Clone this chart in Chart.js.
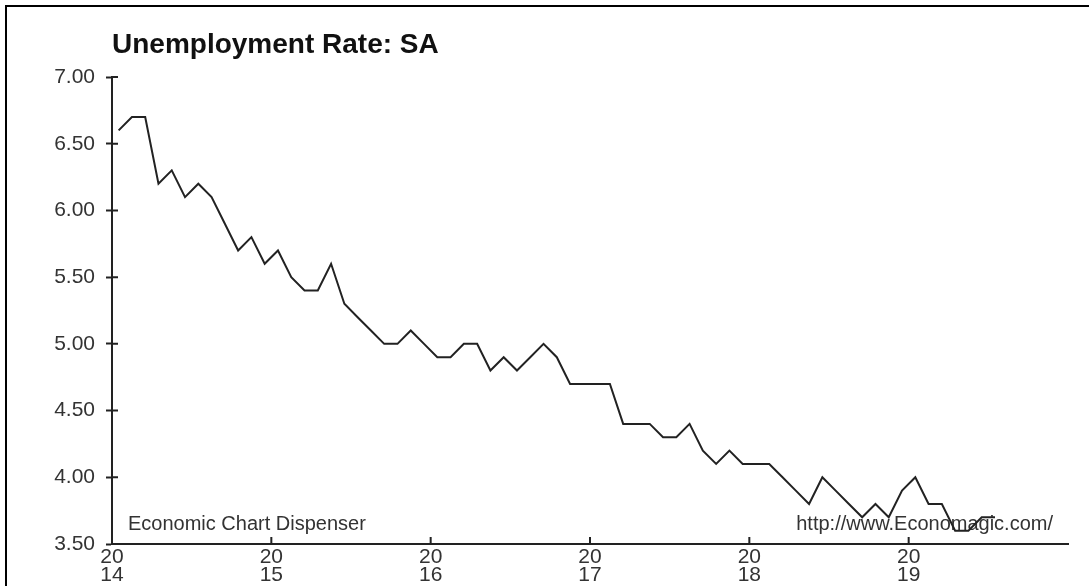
<!DOCTYPE html>
<html>
<head>
<meta charset="utf-8">
<title>Unemployment Rate: SA</title>
<script src="https://cdn.jsdelivr.net/npm/chart.js@4.4.1/dist/chart.umd.min.js"></script>
<style>
  html, body { margin: 0; padding: 0; background: #fff; }
  #wrap { position: relative; width: 1089px; height: 586px; }
  #frame { position: absolute; left: 5px; top: 5px; right: 0; bottom: 0; border-top: 2px solid #000; border-left: 2px solid #000; pointer-events: none; }
</style>
</head>
<body>
<div id="wrap">
  <canvas id="rateChart"></canvas>
  <div id="frame"></div>
</div>
<script>
// monthly unemployment rate, seasonally adjusted
const years = [2014, 2015, 2016, 2017, 2018, 2019]
const rates2014 = [6.6, 6.7, 6.7, 6.2, 6.3, 6.1, 6.2, 6.1, 5.9, 5.7, 5.8, 5.6]
const rates2015 = [5.7, 5.5, 5.4, 5.4, 5.6, 5.3, 5.2, 5.1, 5.0, 5.0, 5.1, 5.0]
const rates2016 = [4.9, 4.9, 5.0, 5.0, 4.8, 4.9, 4.8, 4.9, 5.0, 4.9, 4.7, 4.7]
const rates2017 = [4.7, 4.7, 4.4, 4.4, 4.4, 4.3, 4.3, 4.4, 4.2, 4.1, 4.2, 4.1]
const rates2018 = [4.1, 4.1, 4.0, 3.9, 3.8, 4.0, 3.9, 3.8, 3.7, 3.8, 3.7, 3.9]
const rates2019 = [4.0, 3.8, 3.8, 3.6, 3.6, 3.7, 3.7]

const chartTitle = 'Unemployment Rate: SA'
const sourceNote = 'Economic Chart Dispenser'
const siteNote = 'http://www.Economagic.com/'

const yMin = 3.5
const yMax = 7
const yStep = 0.5

// one point per month, placed in the middle of the month
var points = []
var allRates = [rates2014, rates2015, rates2016, rates2017, rates2018, rates2019]
allRates.forEach((list, i) => {
    list.forEach((v, m) => {
        points.push({ x: years[i] + (m + 0.5) / 12, y: v })
    })
})

var textFont = '"Liberation Sans", Arial, sans-serif'

// inner halves of the tick marks, the two notes and the title
const chartDecor = {
    id: 'chartDecor',
    beforeDatasetsDraw(chart) {
        const { ctx, chartArea, scales } = chart
        ctx.save()
        ctx.strokeStyle = '#222'
        ctx.lineWidth = 2
        ctx.beginPath()
        scales.y.ticks.forEach(t => {
            var y = scales.y.getPixelForValue(t.value)
            ctx.moveTo(chartArea.left, y)
            ctx.lineTo(chartArea.left + 6, y)
        })
        scales.x.ticks.forEach(t => {
            var x = scales.x.getPixelForValue(t.value)
            ctx.moveTo(x, chartArea.bottom)
            ctx.lineTo(x, chartArea.bottom - 7)
        })
        ctx.stroke()

        ctx.fillStyle = '#333'
        ctx.font = '20px ' + textFont
        ctx.textBaseline = 'alphabetic'
        ctx.textAlign = 'left'
        ctx.fillText(sourceNote, chartArea.left + 16, chartArea.bottom - 14)
        ctx.textAlign = 'right'
        ctx.fillText(siteNote, chartArea.right - 15, chartArea.bottom - 14)

        ctx.fillStyle = '#111'
        ctx.font = 'bold 28px ' + textFont
        ctx.textAlign = 'left'
        ctx.fillText(chartTitle, chartArea.left, chartArea.top - 24)
        ctx.restore()
    }
}

var ctx = document.getElementById('rateChart')

new Chart(ctx, {
    type: 'line',
    data: {
        datasets: [{
            label: chartTitle,
            data: points,
            borderColor: '#222',
            borderWidth: 2,
            pointRadius: 0,
            tension: 0,
            fill: false
        }]
    },
    options: {
        responsive: true,
        maintainAspectRatio: false,
        animation: false,
        layout: {
            padding: { top: 77, right: 21, bottom: 0, left: 0 }
        },
        plugins: {
            legend: { display: false },
            tooltip: { enabled: false },
            title: { display: false }
        },
        scales: {
            x: {
                type: 'linear',
                min: years[0],
                max: years[years.length - 1] + 1,
                afterBuildTicks: (scale) => {
                    scale.ticks = years.map(v => ({ value: v }))
                },
                afterFit: (scale) => {
                    scale.height = 42
                },
                border: { color: '#222', width: 2 },
                grid: { drawOnChartArea: false, drawTicks: false },
                ticks: {
                    autoSkip: false,
                    maxRotation: 0,
                    padding: 4,
                    color: '#333',
                    font: { family: textFont, size: 21, lineHeight: 0.86 },
                    callback: (v) => [String(v).slice(0, 2), String(v).slice(2)]
                }
            },
            y: {
                min: yMin,
                max: yMax,
                afterFit: (scale) => {
                    scale.width = 112
                },
                border: { color: '#222', width: 2 },
                grid: { drawOnChartArea: false, tickLength: 6, tickColor: '#222', tickWidth: 2 },
                ticks: {
                    stepSize: yStep,
                    padding: 11,
                    color: '#333',
                    font: { family: textFont, size: 21 },
                    callback: (v) => v.toFixed(2)
                }
            }
        }
    },
    plugins: [chartDecor]
})
</script>
</body>
</html>
